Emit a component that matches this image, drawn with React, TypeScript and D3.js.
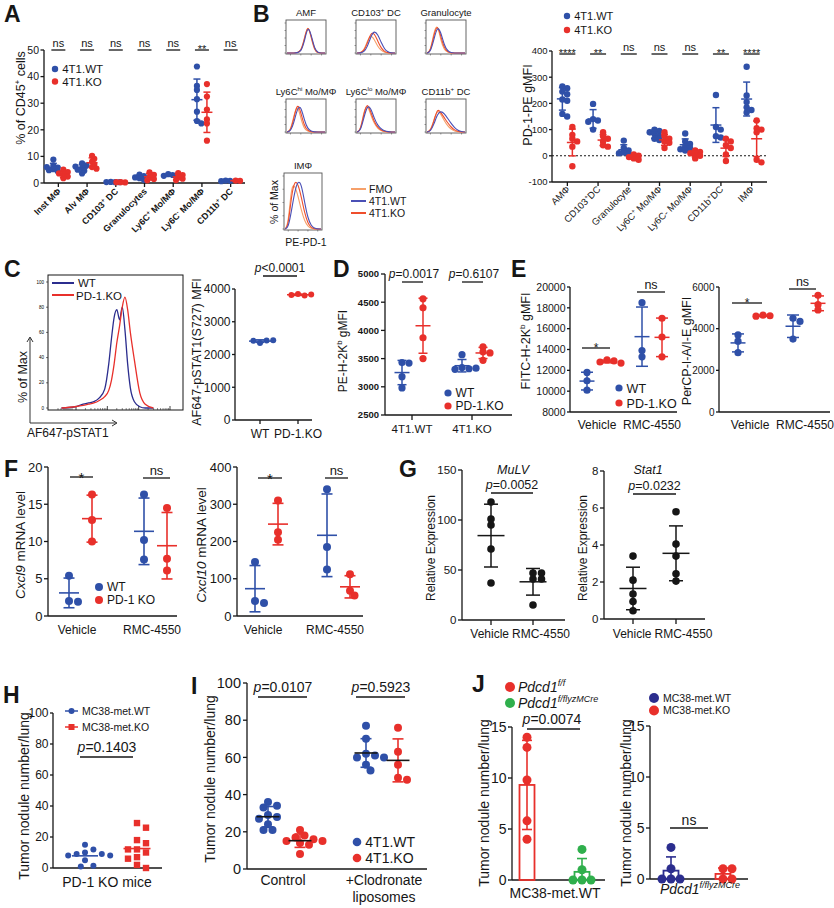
import React from 'react';
import * as d3 from 'd3';

const FONT = "'Liberation Sans', Arial, Helvetica, sans-serif";
const INK = '#161616';
const BLUE = '#2f50a8';
const RED = '#e8302b';
const NAVY = '#2b2d8e';
const GREEN = '#2faf4c';
const H_FMO = '#f6a06a';
const H_WT = '#4a50b6';
const H_KO = '#ef4e2c';

/* ---------------- A ---------------- */
const aCategories = ['Inst MΦ', 'Alv MΦ', 'CD103^+^ DC', 'Granulocytes', 'Ly6C^+^ Mo/MΦ', 'Ly6C^-^ Mo/MΦ', 'CD11b^+^ DC'];
const aWT = [
  [8.8, 6.5, 5.8, 5.2, 4.8, 4.4, 6.0],
  [7.4, 6.6, 5.6, 4.6, 3.6, 5.0, 6.2],
  [0.4, 0.3, 0.35, 0.3],
  [3.2, 2.6, 1.8, 1.2, 2.1],
  [3.3, 3.0, 2.7, 2.9],
  [43.8, 36.5, 35.0, 31.5, 26.8, 23.3, 22.4],
  [0.9, 0.8, 0.7],
];
const aKO = [
  [5.0, 4.1, 3.1, 2.4, 3.6, 1.8],
  [10.2, 9.1, 8.0, 7.0, 6.0, 5.4],
  [0.3, 0.2, 0.3],
  [4.0, 3.1, 2.2, 1.5, 1.0],
  [3.7, 3.0, 2.2, 1.6, 1.1],
  [37.2, 32.5, 27.6, 23.9, 22.4, 15.9],
  [0.9, 0.8],
];
const aSig = ['ns', 'ns', 'ns', 'ns', 'ns', '**', 'ns'];
const aTicks = [0, 10, 20, 30, 40, 50];
const aLegend = ['4T1.WT', '4T1.KO'];

/* ---------------- B (histograms) ---------------- */
const bHistTitles = ['AMF', 'CD103^+^ DC', 'Granulocyte', 'Ly6C^hi^ Mo/MΦ', 'Ly6C^lo^ Mo/MΦ', 'CD11b^+^ DC', 'IMΦ'];
const histBins = [0, 1, 2, 3, 4, 5, 6, 7, 8, 9, 10, 11];
const bHistFMO = [
  [0, 0, 0, 1, 6, 45, 100, 50, 6, 0, 0, 0],
  [0, 1, 8, 40, 62, 45, 22, 8, 2, 0, 0, 0],
  [0, 6, 70, 100, 40, 10, 2, 0, 0, 0, 0, 0],
  [0, 4, 55, 95, 45, 10, 2, 0, 0, 0, 0, 0],
  [0, 5, 70, 95, 55, 28, 12, 4, 1, 0, 0, 0],
  [0, 4, 40, 75, 60, 38, 20, 9, 3, 1, 0, 0],
  [0, 8, 85, 82, 62, 35, 15, 5, 1, 0, 0, 0],
];
const bHistWT = [
  [0, 0, 0, 1, 4, 35, 92, 62, 12, 1, 0, 0],
  [0, 0, 3, 20, 55, 75, 62, 35, 12, 3, 0, 0],
  [0, 3, 45, 90, 70, 25, 6, 1, 0, 0, 0, 0],
  [0, 2, 30, 80, 88, 40, 10, 2, 0, 0, 0, 0],
  [0, 3, 48, 90, 80, 45, 22, 10, 3, 1, 0, 0],
  [0, 2, 25, 60, 70, 62, 45, 28, 14, 5, 1, 0],
  [0, 2, 35, 72, 92, 85, 50, 20, 6, 1, 0, 0],
];
const bHistKO = [
  [0, 0, 0, 1, 5, 42, 97, 55, 9, 0, 0, 0],
  [0, 1, 6, 32, 68, 66, 40, 16, 4, 1, 0, 0],
  [0, 5, 60, 98, 55, 16, 3, 0, 0, 0, 0, 0],
  [0, 3, 45, 100, 65, 20, 4, 1, 0, 0, 0, 0],
  [0, 4, 62, 100, 65, 34, 15, 6, 2, 0, 0, 0],
  [0, 3, 35, 80, 65, 48, 30, 16, 6, 2, 0, 0],
  [0, 5, 65, 92, 85, 60, 30, 10, 3, 0, 0, 0],
];
const bHistLegend = ['FMO', '4T1.WT', '4T1.KO'];

/* ---------------- B (dot plot) ---------------- */
const bCategories = ['AMΦ', 'CD103^+^DC', 'Granulocyte', 'Ly6C^+^ Mo/MΦ', 'Ly6C- Mo/MΦ', 'CD11b^+^DC', 'IMΦ'];
const bWT = [
  [265, 258, 245, 235, 215, 210, 160, 150],
  [198, 140, 135, 130, 100],
  [58, 30, 20, 15, 10, 5],
  [100, 95, 90, 85, 75, 65, 60],
  [85, 55, 45, 35, 30, 25, 20],
  [232, 110, 100, 75, 70],
  [340, 230, 205, 185, 175, 165],
];
const bKO = [
  [110, 80, 65, 55, 35, -40],
  [90, 75, 65, 55, 40, 35],
  [5, 0, -5, -10, -15],
  [90, 75, 65, 55, 50, 30],
  [20, 15, 10, 5, 0, -10],
  [65, 55, 40, 30, 5, -20],
  [135, 105, 100, 90, -15, -25],
];
const bSig = ['****', '**', 'ns', 'ns', 'ns', '**', '****'];
const bTicks = [-100, 0, 100, 200, 300, 400];

/* ---------------- C ---------------- */
const cHistX = [0.1, 0.2, 0.26, 0.3, 0.34, 0.38, 0.42, 0.45, 0.47, 0.49, 0.51, 0.53, 0.55, 0.57, 0.59, 0.61, 0.64, 0.68, 0.72, 0.78];
const cHistWT = [0, 1, 3, 4, 5, 8, 15, 35, 55, 72, 78, 70, 80, 62, 35, 16, 5, 1, 0, 0];
const cHistKO = [0, 1, 2, 3, 4, 6, 9, 14, 22, 35, 52, 65, 80, 88, 78, 60, 38, 12, 3, 0];
const cHistTicks = [0, 20, 40, 60, 80, 100];
const cGroups = ['WT', 'PD-1.KO'];
const cWT = [2350, 2430, 2420, 2435];
const cKO = [3850, 3800, 3820, 3830];
const cTicks = [0, 1000, 2000, 3000, 4000];

/* ---------------- D ---------------- */
const dCategories = ['4T1.WT', '4T1.KO'];
const dWT = [[3430, 3420, 3180, 2980], [3570, 3340, 3320, 3310, 3330]];
const dKO = [[4560, 4400, 3870, 3500], [3710, 3620, 3600, 3470]];
const dP = ['=0.0017', '=0.6107'];
const dTicks = [2500, 3000, 3500, 4000, 4500, 5000];

/* ---------------- E ---------------- */
const eCategories = ['Vehicle', 'RMC-4550'];
const eH2kWT = [[11800, 11000, 10100], [18500, 13900, 13300]];
const eH2kKO = [[13000, 12900, 12800, 12700], [17000, 15200, 13300]];
const eIaWT = [[3700, 3400, 2850], [4500, 4350, 3500]];
const eIaKO = [[4650, 4620, 4600], [5600, 5150, 4900]];
const eH2kTicks = [8000, 10000, 12000, 14000, 16000, 18000, 20000];
const eIaTicks = [0, 2000, 4000, 6000];
const eSig = ['*', 'ns'];

/* ---------------- F ---------------- */
const fCategories = ['Vehicle', 'RMC-4550'];
const fCxcl9WT = [[5.4, 2.0, 1.9], [16.3, 10.2, 7.6]];
const fCxcl9KO = [[16.3, 12.9, 10.0], [14.5, 7.7, 6.1]];
const fCxcl10WT = [[145, 40, 35], [340, 185, 125]];
const fCxcl10KO = [[310, 225, 205], [112, 68, 55]];
const fCxcl9Ticks = [0, 5, 10, 15, 20];
const fCxcl10Ticks = [0, 100, 200, 300, 400];
const fSig = ['*', 'ns'];

/* ---------------- G ---------------- */
const gCategories = ['Vehicle', 'RMC-4550'];
const gMuLV = [[118, 101, 95, 71, 37], [47, 47, 41, 41, 15]];
const gStat1 = [[3.4, 2.1, 1.35, 0.95, 0.45], [5.8, 4.05, 3.4, 2.45, 2.05]];
const gMuLVTicks = [0, 50, 100, 150];
const gStat1Ticks = [0, 2, 4, 6, 8];

/* ---------------- H ---------------- */
const hWT = [15, 12, 10, 9, 9, 8, 8, 5, 1.5, 1];
const hKO = [29, 26, 18, 16, 12, 12, 10, 7, 6, 2, 0];
const hTicks = [0, 20, 40, 60, 80, 100];
const hLegend = ['MC38-met.WT', 'MC38-met.KO'];

/* ---------------- I ---------------- */
const iCategories = ['Control', '+Clodronate'];
const iWT = [[36, 34, 33, 29, 28, 27, 24, 21, 21], [77, 70, 62, 61, 60, 60, 56, 53]];
const iKO = [[21, 18, 17, 16, 15, 15, 14, 13, 8], [76, 63, 56, 49, 48]];
const iP = ['=0.0107', '=0.5923'];
const iTicks = [0, 20, 40, 60, 80, 100];

/* ---------------- J ---------------- */
const jLeft = [[14, 13, 9.8, 5.8, 4], [3, 1, 0, 0, 0]];
const jRight = [[3.1, 1, 0, 0, 0], [1, 1, 0, 0]];
const jTicks = [0, 5, 10, 15];

/* ================= helpers ================= */
function Rich({ s, fs }: { s: string; fs: number }) {
  const parts = s.split('^');
  return (
    <>
      {parts.map((p, i) =>
        i % 2 === 1 ? (
          <tspan key={i} fontSize={fs * 0.65} dy={-fs * 0.38}>{p}</tspan>
        ) : (
          <tspan key={i} fontSize={fs} dy={i > 0 ? fs * 0.38 : 0}>{p}</tspan>
        )
      )}
    </>
  );
}

function T({ x, y, s, fs, anchor = 'middle', weight, italic, rotate, fill = INK }: any) {
  const tr = rotate ? `translate(${x},${y}) rotate(${rotate})` : undefined;
  return (
    <text x={rotate ? 0 : x} y={rotate ? 0 : y} transform={tr} textAnchor={anchor} fontFamily={FONT}
      fontWeight={weight} fontStyle={italic ? 'italic' : undefined} fill={fill} fontSize={fs}>
      <Rich s={s} fs={fs} />
    </text>
  );
}

function Letter({ x, y, s }: any) {
  return <text x={x} y={y} fontFamily={FONT} fontWeight="bold" fontSize={23} fill={INK}>{s}</text>;
}

function PVal({ x, y, s, fs, sym = 'p' }: any) {
  return (
    <text x={x} y={y} textAnchor="middle" fontFamily={FONT} fontSize={fs} fill={INK}>
      <tspan fontStyle="italic">{sym}</tspan>{s}
    </text>
  );
}

function YAxis({ scale, x, ticks, fs, bold, tl = 4, gap = 2, sw = 1.3, fmt }: any) {
  const r = scale.range();
  return (
    <g>
      <line x1={x} x2={x} y1={r[0]} y2={r[1]} stroke={INK} strokeWidth={sw} />
      {ticks.map((t: number) => (
        <g key={t}>
          <line x1={x - tl} x2={x} y1={scale(t)} y2={scale(t)} stroke={INK} strokeWidth={sw} />
          <text x={x - tl - gap} y={scale(t)} dy="0.36em" textAnchor="end" fontSize={fs} fontFamily={FONT}
            fontWeight={bold ? 'bold' : 'normal'} fill={INK}>{fmt ? fmt(t) : t}</text>
        </g>
      ))}
    </g>
  );
}

function HLine({ x1, x2, y, sw = 1.3, color = INK, dash }: any) {
  return <line x1={x1} x2={x2} y1={y} y2={y} stroke={color} strokeWidth={sw} strokeDasharray={dash} />;
}

function Sig({ x1, x2, y, s, fs, dy }: any) {
  const star = s.includes('*');
  const ty = y + (dy ?? (star ? fs * 0.3 : -3));
  return (
    <g>
      <HLine x1={x1} x2={x2} y={y} />
      <text x={(x1 + x2) / 2} y={ty} textAnchor="middle" fontSize={fs} fontFamily={FONT} fill={INK}>{s}</text>
    </g>
  );
}

function swarm(ys: number[], minDist: number, step: number): number[] {
  const placed: [number, number][] = [];
  return ys.map((yy) => {
    let off = 0;
    for (let t = 0; t < 40; t++) {
      off = t === 0 ? 0 : (t % 2 ? 1 : -1) * Math.ceil(t / 2) * step;
      const o = off;
      if (placed.every(([px, py]) => Math.hypot(px - o, py - yy) >= minDist)) break;
    }
    placed.push([off, yy]);
    return off;
  });
}

function DotGroup({ vals, cx, y, color, r = 3, meanW = 12, capW = 8, sw = 1.5, meanColor, barColor, minDist, step, square, err = true, clip0 }: any) {
  const m = d3.mean(vals as number[]) ?? 0;
  const s = d3.deviation(vals as number[]) ?? 0;
  const offs = swarm(vals.map((v: number) => y(v)), minDist ?? r * 1.7, step ?? r * 1.1);
  const bc = barColor ?? color;
  const mc = meanColor ?? color;
  const lo = clip0 ? Math.max(0, m - s) : m - s;
  return (
    <g>
      {vals.map((v: number, i: number) =>
        square ? (
          <rect key={i} x={cx + offs[i] - r} y={y(v) - r} width={2 * r} height={2 * r} fill={color} />
        ) : (
          <circle key={i} cx={cx + offs[i]} cy={y(v)} r={r} fill={color} />
        )
      )}
      {err && (
        <g stroke={bc} strokeWidth={sw}>
          <line x1={cx} x2={cx} y1={y(lo)} y2={y(m + s)} />
          <line x1={cx - capW / 2} x2={cx + capW / 2} y1={y(m + s)} y2={y(m + s)} />
          <line x1={cx - capW / 2} x2={cx + capW / 2} y1={y(lo)} y2={y(lo)} />
        </g>
      )}
      <line x1={cx - meanW / 2} x2={cx + meanW / 2} y1={y(m)} y2={y(m)} stroke={mc} strokeWidth={sw} />
    </g>
  );
}

function BarGroup({ vals, cx, y, color, w = 15, r = 4.5 }: any) {
  const m = d3.mean(vals as number[]) ?? 0;
  const s = d3.deviation(vals as number[]) ?? 0;
  const lo = Math.max(0, m - s);
  const offs = swarm(vals.map((v: number) => y(v)), r * 1.9, r * 2);
  return (
    <g>
      <rect x={cx - w / 2} y={y(m)} width={w} height={y(0) - y(m)} fill="none" stroke={color} strokeWidth={1.8} />
      <g stroke={color} strokeWidth={1.6}>
        <line x1={cx} x2={cx} y1={y(lo)} y2={y(m + s)} />
        <line x1={cx - 5} x2={cx + 5} y1={y(m + s)} y2={y(m + s)} />
        {m - s > 0 && <line x1={cx - 5} x2={cx + 5} y1={y(lo)} y2={y(lo)} />}
      </g>
      {vals.map((v: number, i: number) => (
        <circle key={i} cx={cx + offs[i]} cy={y(v)} r={r} fill={color} />
      ))}
    </g>
  );
}

function LegendDot({ x, y, color, s, fs, r = 3.2, italic }: any) {
  return (
    <g>
      <circle cx={x} cy={y} r={r} fill={color} />
      <T x={x + r + 4} y={y + fs * 0.36} s={s} fs={fs} anchor="start" italic={italic} />
    </g>
  );
}

/* ================= panels ================= */
function PanelA() {
  const y = d3.scaleLinear().domain([0, 50]).range([183, 50]);
  const x = d3.scaleBand<string>().domain(aCategories).range([44, 245]);
  const cx = (k: string) => (x(k) ?? 0) + x.bandwidth() / 2;
  return (
    <g>
      <Letter x={4} y={22} s="A" />
      <YAxis scale={y} x={44} ticks={aTicks} fs={10.5} tl={3.5} gap={1.5} />
      <HLine x1={44} x2={245} y={183} />
      <T x={25} y={98} s="% of CD45^+^ cells" fs={12.5} rotate={-90} />
      {aCategories.map((k, i) => (
        <g key={k}>
          <line x1={cx(k)} x2={cx(k)} y1={183} y2={187} stroke={INK} strokeWidth={1.3} />
          <T x={cx(k) + 3} y={192} s={k} fs={9} anchor="end" rotate={-45} weight="bold" />
          <DotGroup vals={aWT[i]} cx={cx(k) - 5} y={y} color={BLUE} r={3.1} meanW={11} capW={7} minDist={3.4} step={2.2} />
          <DotGroup vals={aKO[i]} cx={cx(k) + 5} y={y} color={RED} r={3.1} meanW={11} capW={7} minDist={3.4} step={2.2} />
          <Sig x1={cx(k) - 7} x2={cx(k) + 7} y={50} s={aSig[i]} fs={11} />
        </g>
      ))}
      <LegendDot x={55} y={69} color={BLUE} s={aLegend[0]} fs={11.5} />
      <LegendDot x={55} y={81.5} color={RED} s={aLegend[1]} fs={11.5} />
    </g>
  );
}

function HistBox({ x0, y0, w, h, title, fmo, wt, ko, fs = 9.5 }: any) {
  const xs = d3.scaleLinear().domain([0, histBins.length - 1]).range([x0 + 1, x0 + w - 1]);
  const ys = d3.scaleLinear().domain([0, 100]).range([y0 + h - 1, y0 + 3]);
  const line = d3.line<number>().x((_, i) => xs(histBins[i])).y((d) => ys(d)).curve(d3.curveBasis);
  const lt = [0, 25, 50, 75, 100];
  return (
    <g>
      <rect x={x0} y={y0} width={w} height={h} fill="none" stroke="#555" strokeWidth={0.9} />
      {lt.map((t) => <line key={t} x1={x0 - 1.5} x2={x0} y1={ys(t)} y2={ys(t)} stroke="#555" strokeWidth={0.6} />)}
      {histBins.filter((b) => b % 3 === 1).map((b) => <line key={b} x1={xs(b)} x2={xs(b)} y1={y0 + h} y2={y0 + h + 1.5} stroke="#555" strokeWidth={0.6} />)}
      <path d={line(fmo) ?? ''} fill="none" stroke={H_FMO} strokeWidth={1.1} />
      <path d={line(ko) ?? ''} fill="none" stroke={H_KO} strokeWidth={1.1} />
      <path d={line(wt) ?? ''} fill="none" stroke={H_WT} strokeWidth={1.1} />
      <T x={x0 + w / 2} y={y0 - 4} s={title} fs={fs} />
    </g>
  );
}

function PanelBHist() {
  const lefts = [286, 356, 426];
  const tops = [20, 99];
  const legendColors = [H_FMO, H_WT, H_KO];
  return (
    <g>
      <Letter x={253} y={22} s="B" />
      {bHistTitles.slice(0, 6).map((t, i) => (
        <HistBox key={t} x0={lefts[i % 3]} y0={tops[Math.floor(i / 3)]} w={40} h={34} title={t}
          fmo={bHistFMO[i]} wt={bHistWT[i]} ko={bHistKO[i]} />
      ))}
      <HistBox x0={284} y0={173} w={38} h={57} title={bHistTitles[6]} fmo={bHistFMO[6]} wt={bHistWT[6]} ko={bHistKO[6]} />
      <T x={278} y={202} s="% of Max" fs={10.5} rotate={-90} />
      <T x={306} y={246} s="PE-PD-1" fs={10.5} />
      {bHistLegend.map((s, i) => (
        <g key={s}>
          <HLine x1={351} x2={366} y={189 + i * 12} color={legendColors[i]} sw={2} />
          <T x={369} y={193 + i * 12} s={s} fs={10.5} anchor="start" />
        </g>
      ))}
    </g>
  );
}

function PanelBDots() {
  const y = d3.scaleLinear().domain([-100, 400]).range([182, 51]);
  const x = d3.scaleBand<string>().domain(bCategories).range([552, 767]);
  const cx = (k: string) => (x(k) ?? 0) + x.bandwidth() / 2;
  return (
    <g>
      <YAxis scale={y} x={552} ticks={bTicks} fs={9.5} tl={3} gap={1.5} />
      <HLine x1={552} x2={767} y={182} />
      <HLine x1={552} x2={767} y={y(0)} dash="2 2" sw={1.1} />
      <T x={532} y={105} s="PD-1-PE gMFI" fs={12.5} rotate={-90} />
      {bCategories.map((k, i) => (
        <g key={k}>
          <line x1={cx(k)} x2={cx(k)} y1={182} y2={186} stroke={INK} strokeWidth={1.3} />
          <T x={cx(k) + 3} y={190} s={k} fs={9.5} anchor="end" rotate={-45} />
          <DotGroup vals={bWT[i]} cx={cx(k) - 5} y={y} color={BLUE} r={3.2} meanW={11} capW={7} minDist={3.6} step={2.4} />
          <DotGroup vals={bKO[i]} cx={cx(k) + 5} y={y} color={RED} r={3.2} meanW={11} capW={7} minDist={3.6} step={2.4} />
          <Sig x1={cx(k) - 8} x2={cx(k) + 8} y={54} s={bSig[i]} fs={11} />
        </g>
      ))}
      <LegendDot x={567} y={16} color={BLUE} s="4T1.WT" fs={11} />
      <LegendDot x={567} y={30} color={RED} s="4T1.KO" fs={11} />
    </g>
  );
}

function PanelC() {
  const hx = d3.scaleLinear().domain([0, 1]).range([48, 183]);
  const hy = d3.scaleLinear().domain([0, 100]).range([408, 282]);
  const line = d3.line<number>().x((_, i) => hx(cHistX[i])).y((d) => hy(d)).curve(d3.curveMonotoneX);
  const lg = d3.scaleLog().domain([1e2, 1e5]).range([76, 170]);
  const majors = [1e2, 1e3, 1e4, 1e5];
  const minors = [1e2, 1e3, 1e4].flatMap((d) => [2, 3, 4, 5, 6, 7, 8, 9].map((m) => m * d));
  const y = d3.scaleLinear().domain([0, 4000]).range([420, 289]);
  const x = d3.scalePoint<string>().domain(cGroups).range([241, 317]).padding(0.5);
  return (
    <g>
      <Letter x={4} y={277} s="C" />
      <rect x={48} y={275} width={135} height={135} fill="none" stroke={INK} strokeWidth={1} />
      {cHistTicks.map((t) => (
        <g key={t}>
          <line x1={46} x2={48} y1={hy(t)} y2={hy(t)} stroke={INK} strokeWidth={0.6} />
          <text x={44} y={hy(t) + 1.5} fontSize={4.5} textAnchor="end" fontFamily={FONT}>{t}</text>
        </g>
      ))}
      {majors.map((t) => <line key={t} x1={lg(t)} x2={lg(t)} y1={410} y2={406} stroke={INK} strokeWidth={0.8} />)}
      {minors.map((t) => <line key={t} x1={lg(t)} x2={lg(t)} y1={410} y2={408} stroke={INK} strokeWidth={0.5} />)}
      {[58, 61, 64, 66, 68, 70, 72].map((p) => <line key={p} x1={p} x2={p} y1={410} y2={408} stroke={INK} strokeWidth={0.5} />)}
      <path d={line(cHistWT) ?? ''} fill="none" stroke={NAVY} strokeWidth={1.3} />
      <path d={line(cHistKO) ?? ''} fill="none" stroke={RED} strokeWidth={1.3} />
      <HLine x1={52} x2={74} y={283} color={NAVY} sw={2} />
      <HLine x1={52} x2={74} y={295} color={RED} sw={2} />
      <T x={78} y={287} s="WT" fs={11.5} anchor="start" />
      <T x={76} y={299.5} s="PD-1.KO" fs={11.5} anchor="start" />
      <g stroke="#333" strokeWidth={1} fill="none">
        <line x1={30} x2={30} y1={423} y2={338} />
        <polyline points="27,342 30,337 33,342" />
        <line x1={30} x2={116} y1={423} y2={423} />
        <polyline points="112,420 117,423 112,426" />
      </g>
      <T x={27} y={377} s="% of Max" fs={12.5} rotate={-90} />
      <T x={27} y={437} s="AF647-pSTAT1" fs={12} anchor="start" />

      <YAxis scale={y} x={235} ticks={cTicks} fs={12} tl={3} gap={1.5} />
      <HLine x1={235} x2={312} y={420} />
      <T x={201} y={352} s="AF647-pSTAT1(S727) MFI" fs={12.5} rotate={-90} />
      {cGroups.map((g) => (
        <g key={g}>
          <line x1={x(g)} x2={x(g)} y1={420} y2={424} stroke={INK} strokeWidth={1.3} />
          <T x={x(g)} y={438} s={g} fs={12} />
        </g>
      ))}
      <DotGroup vals={cWT} cx={x('WT')} y={y} color={BLUE} r={3} meanW={22} capW={8} minDist={5.5} step={3.3} />
      <DotGroup vals={cKO} cx={x('PD-1.KO')} y={y} color={RED} r={3} meanW={22} capW={8} minDist={5.5} step={3.3} />
      <HLine x1={263} x2={297} y={276} />
      <PVal x={280} y={272} s="<0.0001" fs={12} />
    </g>
  );
}

function PanelD() {
  const y = d3.scaleLinear().domain([2500, 5000]).range([415, 274]);
  const x = d3.scalePoint<string>().domain(dCategories).range([382, 502]).padding(0.5);
  return (
    <g>
      <Letter x={333} y={277} s="D" />
      <YAxis scale={y} x={385} ticks={dTicks} fs={9.5} bold />
      <HLine x1={385} x2={512} y={415} />
      <T x={347} y={351} s="PE-H-2K^b^ gMFI" fs={12} rotate={-90} />
      {dCategories.map((k, i) => (
        <g key={k}>
          <line x1={x(k)} x2={x(k)} y1={415} y2={420} stroke={INK} strokeWidth={1.3} />
          <T x={x(k)} y={433} s={k} fs={11.5} />
          <DotGroup vals={dWT[i]} cx={(x(k) ?? 0) - 10} y={y} color={BLUE} r={3.6} meanW={15} capW={9} minDist={5} step={3.5} />
          <DotGroup vals={dKO[i]} cx={(x(k) ?? 0) + 11} y={y} color={RED} r={3.6} meanW={15} capW={9} minDist={5} step={3.5} />
          <HLine x1={(x(k) ?? 0) - 10} x2={(x(k) ?? 0) + 11} y={282} />
          <PVal x={(x(k) ?? 0) + 2} y={278} s={dP[i]} fs={12} />
        </g>
      ))}
      <LegendDot x={448} y={393} color={BLUE} s="WT" fs={12} r={3.6} />
      <LegendDot x={448} y={406} color={RED} s="PD-1.KO" fs={12} r={3.6} />
    </g>
  );
}

function PanelE() {
  const y1 = d3.scaleLinear().domain([8000, 20000]).range([412, 287]);
  const x1 = d3.scalePoint<string>().domain(eCategories).range([569.5, 679.5]).padding(0.5);
  const y2 = d3.scaleLinear().domain([0, 6000]).range([412, 287]);
  const x2 = d3.scalePoint<string>().domain(eCategories).range([722.5, 832.5]).padding(0.5);
  const dg = { r: 3.6, meanW: 15, capW: 12, minDist: 5, step: 3.5 };
  return (
    <g>
      <Letter x={511} y={277} s="E" />
      <YAxis scale={y1} x={570} ticks={eH2kTicks} fs={10.5} tl={3} gap={1.5} />
      <HLine x1={570} x2={677} y={412} />
      <T x={530} y={341} s="FITC-H-2K^b^ gMFI" fs={12.5} rotate={-90} />
      {eCategories.map((k, i) => (
        <g key={k}>
          <T x={x1(k)} y={429} s={k} fs={12} />
          <DotGroup vals={eH2kWT[i]} cx={(x1(k) ?? 0) - 10} y={y1} color={BLUE} {...dg} />
          <DotGroup vals={eH2kKO[i]} cx={(x1(k) ?? 0) + 10} y={y1} color={RED} {...dg} />
        </g>
      ))}
      <Sig x1={582} x2={610} y={348} s={eSig[0]} fs={12} />
      <Sig x1={637} x2={665} y={292} s={eSig[1]} fs={12.5} />
      <LegendDot x={619} y={388} color={BLUE} s="WT" fs={12.5} r={3.6} />
      <LegendDot x={619} y={403} color={RED} s="PD-1.KO" fs={12.5} r={3.6} />

      <YAxis scale={y2} x={719} ticks={eIaTicks} fs={10} tl={3} gap={1.5} />
      <HLine x1={719} x2={830} y={412} />
      <T x={691} y={351} s="PerCP-I-A/I-E gMFI" fs={12.5} rotate={-90} />
      {eCategories.map((k, i) => (
        <g key={k}>
          <T x={x2(k)} y={429} s={k} fs={12} />
          <DotGroup vals={eIaWT[i]} cx={(x2(k) ?? 0) - 12} y={y2} color={BLUE} {...dg} />
          <DotGroup vals={eIaKO[i]} cx={(x2(k) ?? 0) + 13} y={y2} color={RED} {...dg} />
        </g>
      ))}
      <Sig x1={732} x2={762} y={303} s={eSig[0]} fs={12} />
      <Sig x1={789} x2={816} y={289} s={eSig[1]} fs={12.5} />
    </g>
  );
}

function PanelF() {
  const y1 = d3.scaleLinear().domain([0, 20]).range([616, 467]);
  const x1 = d3.scalePoint<string>().domain(fCategories).range([39.5, 189.5]).padding(0.5);
  const y2 = d3.scaleLinear().domain([0, 400]).range([616, 467]);
  const x2 = d3.scalePoint<string>().domain(fCategories).range([227, 371]).padding(0.5);
  const dg = { r: 4, meanW: 20, capW: 11, minDist: 6, step: 4.5, sw: 1.6 };
  return (
    <g>
      <Letter x={4} y={477} s="F" />
      <YAxis scale={y1} x={48} ticks={fCxcl9Ticks} fs={13} tl={4} gap={1.5} />
      <HLine x1={48} x2={177} y={616} />
      <text transform="translate(25,545) rotate(-90)" textAnchor="middle" fontFamily={FONT} fontSize={13.5} fill={INK}>
        <tspan fontStyle="italic">Cxcl9</tspan> mRNA level
      </text>
      {fCategories.map((k, i) => (
        <g key={k}>
          <T x={x1(k)} y={634} s={k} fs={12} />
          <DotGroup vals={fCxcl9WT[i]} cx={(x1(k) ?? 0) - 8} y={y1} color={BLUE} {...dg} />
          <DotGroup vals={fCxcl9KO[i]} cx={(x1(k) ?? 0) + 15} y={y1} color={RED} {...dg} />
        </g>
      ))}
      <Sig x1={70} x2={93} y={477} s={fSig[0]} fs={15} dy={6} />
      <Sig x1={143} x2={170} y={478} s={fSig[1]} fs={13} />
      <LegendDot x={99} y={587} color={BLUE} s="WT" fs={12} r={4} />
      <LegendDot x={99} y={600} color={RED} s="PD-1 KO" fs={12} r={4} />

      <YAxis scale={y2} x={237} ticks={fCxcl10Ticks} fs={13} tl={4} gap={1.5} />
      <HLine x1={237} x2={363} y={616} />
      <text transform="translate(206,545) rotate(-90)" textAnchor="middle" fontFamily={FONT} fontSize={13.5} fill={INK}>
        <tspan fontStyle="italic">Cxcl10</tspan> mRNA level
      </text>
      {fCategories.map((k, i) => (
        <g key={k}>
          <T x={x2(k)} y={634} s={k} fs={12} />
          <DotGroup vals={fCxcl10WT[i]} cx={(x2(k) ?? 0) - 8} y={y2} color={BLUE} {...dg} />
          <DotGroup vals={fCxcl10KO[i]} cx={(x2(k) ?? 0) + 15} y={y2} color={RED} {...dg} />
        </g>
      ))}
      <Sig x1={258} x2={282} y={478} s={fSig[0]} fs={15} dy={6} />
      <Sig x1={325} x2={348} y={478} s={fSig[1]} fs={13} />
    </g>
  );
}

function PanelG() {
  const y1 = d3.scaleLinear().domain([0, 150]).range([620, 470]);
  const x1 = d3.scalePoint<string>().domain(gCategories).range([470, 554]).padding(0.5);
  const y2 = d3.scaleLinear().domain([0, 8]).range([619, 471]);
  const x2 = d3.scalePoint<string>().domain(gCategories).range([611.5, 697.5]).padding(0.5);
  const dg = { r: 3.8, meanW: 27, capW: 14, minDist: 6, step: 8.5, sw: 1.5, color: INK };
  const mid1 = ((x1(gCategories[0]) ?? 0) + (x1(gCategories[1]) ?? 0)) / 2;
  const mid2 = ((x2(gCategories[0]) ?? 0) + (x2(gCategories[1]) ?? 0)) / 2;
  return (
    <g>
      <Letter x={399} y={477} s="G" />
      <YAxis scale={y1} x={462} ticks={gMuLVTicks} fs={11.5} tl={4} gap={1.5} />
      <HLine x1={462} x2={565} y={620} />
      <T x={435} y={548} s="Relative Expression" fs={12} rotate={-90} />
      <T x={513} y={474} s="MuLV" fs={12.5} italic />
      {gCategories.map((k, i) => (
        <g key={k}>
          <line x1={x1(k)} x2={x1(k)} y1={620} y2={625} stroke={INK} strokeWidth={1.3} />
          <DotGroup vals={gMuLV[i]} cx={x1(k)} y={y1} {...dg} />
        </g>
      ))}
      <T x={mid1 - 3} y={638} s={gCategories[0]} fs={12} anchor="end" />
      <T x={mid1 + 0} y={638} s={gCategories[1]} fs={12} anchor="start" />
      <HLine x1={x1(gCategories[0])} x2={x1(gCategories[1])} y={493} />
      <PVal x={mid1} y={489} s="=0.0052" fs={12.5} />

      <YAxis scale={y2} x={604} ticks={gStat1Ticks} fs={11.5} tl={4} gap={1.5} />
      <HLine x1={604} x2={705} y={619} />
      <T x={587} y={548} s="Relative Expression" fs={12} rotate={-90} />
      <T x={648} y={474} s="Stat1" fs={12.5} italic />
      {gCategories.map((k, i) => (
        <g key={k}>
          <line x1={x2(k)} x2={x2(k)} y1={619} y2={624} stroke={INK} strokeWidth={1.3} />
          <DotGroup vals={gStat1[i]} cx={x2(k)} y={y2} {...dg} />
        </g>
      ))}
      <T x={mid2 - 3} y={638} s={gCategories[0]} fs={12} anchor="end" />
      <T x={mid2 + 0} y={638} s={gCategories[1]} fs={12} anchor="start" />
      <HLine x1={x2(gCategories[0])} x2={x2(gCategories[1])} y={494} />
      <PVal x={mid2} y={490} s="=0.0232" fs={12.5} />
    </g>
  );
}

function PanelH() {
  const y = d3.scaleLinear().domain([0, 100]).range([868, 713]);
  return (
    <g>
      <Letter x={3} y={703} s="H" />
      <YAxis scale={y} x={53} ticks={hTicks} fs={12} tl={3} gap={1.5} />
      <HLine x1={53} x2={162} y={868} />
      <T x={29} y={796} s="Tumor nodule number/lung" fs={14} rotate={-90} />
      <DotGroup vals={hWT} cx={85} y={y} color={BLUE} r={3} meanW={26} err={false} minDist={7} step={4.2} sw={1.6} />
      <DotGroup vals={hKO} cx={137} y={y} color={RED} r={3.2} meanW={27} err={false} minDist={7} step={4.5} sw={1.6} square />
      <T x={107} y={887} s="PD-1 KO mice" fs={14} />
      <HLine x1={80} x2={133} y={757} />
      <PVal x={107} y={752} s="=0.1403" fs={14} />
      <HLine x1={65} x2={78} y={711} color={BLUE} sw={1.5} />
      <circle cx={71.5} cy={711} r={3} fill={BLUE} />
      <T x={82} y={715} s={hLegend[0]} fs={10.5} anchor="start" />
      <HLine x1={65} x2={78} y={727} color={RED} sw={1.5} />
      <rect x={68.5} y={724} width={6} height={6} fill={RED} />
      <T x={82} y={731} s={hLegend[1]} fs={10.5} anchor="start" />
    </g>
  );
}

function PanelI() {
  const y = d3.scaleLinear().domain([0, 100]).range([869, 683]);
  const x = d3.scalePoint<string>().domain(iCategories).range([234, 430]).padding(0.5);
  const dg = { r: 4, meanW: 23, capW: 11, minDist: 6.5, step: 4.5, sw: 1.6, meanColor: INK };
  return (
    <g>
      <Letter x={191} y={694} s="I" />
      <YAxis scale={y} x={247} ticks={iTicks} fs={14.5} />
      <HLine x1={247} x2={427} y={869} />
      <T x={215} y={779} s="Tumor nodule number/lung" fs={14} rotate={-90} />
      {iCategories.map((k, i) => (
        <g key={k}>
          <DotGroup vals={iWT[i]} cx={(x(k) ?? 0) - 15} y={y} color={BLUE} {...dg} />
          <DotGroup vals={iKO[i]} cx={(x(k) ?? 0) + 17} y={y} color={RED} {...dg} />
          <HLine x1={(x(k) ?? 0) - 25} x2={(x(k) ?? 0) + 24} y={697} />
          <PVal x={x(k)} y={692} s={iP[i]} fs={14} />
        </g>
      ))}
      <T x={x(iCategories[0])} y={885} s={iCategories[0]} fs={14} />
      <T x={(x(iCategories[1]) ?? 0) + 3} y={885} s={iCategories[1]} fs={14} />
      <T x={(x(iCategories[1]) ?? 0) + 3} y={902} s="liposomes" fs={14} />
      <LegendDot x={357} y={842} color={BLUE} s="4T1.WT" fs={14} r={4.3} />
      <LegendDot x={357} y={858} color={RED} s="4T1.KO" fs={14} r={4.3} />
    </g>
  );
}

function PanelJ() {
  const y1 = d3.scaleLinear().domain([0, 15]).range([880, 727]);
  const y2 = d3.scaleLinear().domain([0, 15]).range([879, 726]);
  const x1 = d3.scalePoint<string>().domain(['ff', 'cre']).range([499.5, 609.5]).padding(0.5);
  const x2 = d3.scalePoint<string>().domain(['wt', 'ko']).range([645, 749]).padding(0.5);
  return (
    <g>
      <text transform="translate(489,803) rotate(-90)" textAnchor="middle" fontFamily={FONT} fontSize={14} fill={INK}>Tumor nodule number/lung</text>
      <Letter x={472} y={692} s="J" />
      <YAxis scale={y1} x={512} ticks={jTicks} fs={14} tl={4} gap={1.5} />
      <HLine x1={512} x2={605} y={880} />
      <BarGroup vals={jLeft[0]} cx={x1('ff')} y={y1} color={RED} />
      <BarGroup vals={jLeft[1]} cx={x1('cre')} y={y1} color={GREEN} />
      <T x={555} y={898} s="MC38-met.WT" fs={14} />
      <HLine x1={527} x2={580} y={729} />
      <PVal x={552} y={724} s="=0.0074" fs={14} />
      <circle cx={510} cy={687} r={5} fill={RED} />
      <text x={518} y={692} fontFamily={FONT} fontSize={14} fontStyle="italic" fill={INK}>Pdcd1<tspan fontSize={9} dy={-6}>f/f</tspan></text>
      <circle cx={510} cy={703} r={5} fill={GREEN} />
      <text x={518} y={708} fontFamily={FONT} fontSize={14} fontStyle="italic" fill={INK}>Pdcd1<tspan fontSize={9} dy={-6}>f/flyzMCre</tspan></text>

      <text transform="translate(631,803) rotate(-90)" textAnchor="middle" fontFamily={FONT} fontSize={14} fill={INK}>Tumor nodule number/lung</text>
      <YAxis scale={y2} x={650} ticks={jTicks} fs={14} tl={4} gap={1.5} />
      <HLine x1={650} x2={748} y={879} />
      <BarGroup vals={jRight[0]} cx={x2('wt')} y={y2} color={NAVY} />
      <BarGroup vals={jRight[1]} cx={x2('ko')} y={y2} color={RED} />
      <text x={700} y={894} textAnchor="middle" fontFamily={FONT} fontSize={14} fontStyle="italic" fill={INK}>Pdcd1<tspan fontSize={9} dy={-6}>f/flyzMCre</tspan></text>
      <Sig x1={670} x2={708} y={828} s="ns" fs={14} />
      <LegendDot x={654} y={698} color={NAVY} s="MC38-met.WT" fs={10.5} r={5} />
      <LegendDot x={654} y={710.5} color={RED} s="MC38-met.KO" fs={10.5} r={5} />
    </g>
  );
}

export default function App() {
  return (
    <svg width={834} height={908} viewBox="0 0 834 908" style={{ position: 'absolute', left: 0, top: 0, background: '#fff' }}>
      <rect width={834} height={908} fill="#fff" />
      <PanelA />
      <PanelBHist />
      <PanelBDots />
      <PanelC />
      <PanelD />
      <PanelE />
      <PanelF />
      <PanelG />
      <PanelH />
      <PanelI />
      <PanelJ />
    </svg>
  );
}
